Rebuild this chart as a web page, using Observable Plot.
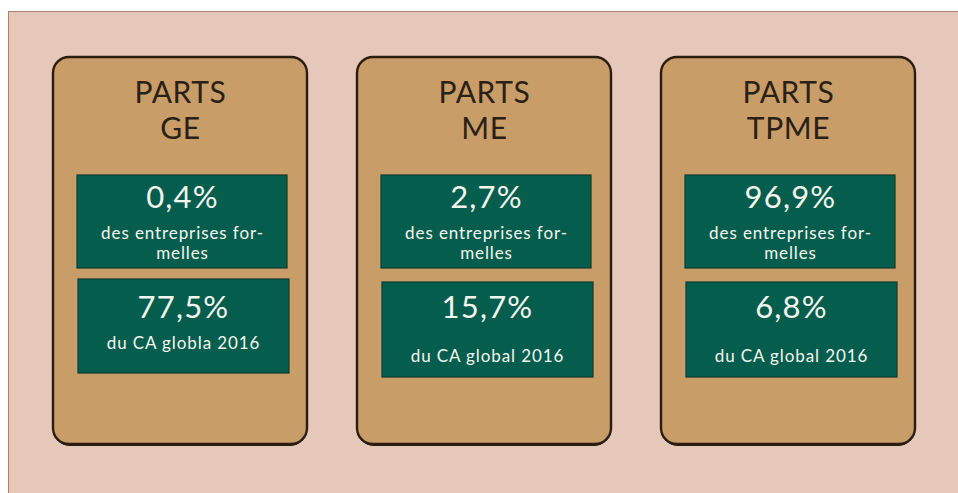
<!DOCTYPE html>
<html>
<head>
<meta charset="utf-8">
<script src="https://cdn.jsdelivr.net/npm/d3@7"></script>
<script src="https://cdn.jsdelivr.net/npm/@observablehq/plot@0.6"></script>
<style>
  html, body { margin: 0; padding: 0; background: #ffffff; }
  #wrap { position: relative; width: 958px; height: 493px; overflow: hidden; }
  #panel { position: absolute; left: 8px; top: 11px; right: -2px; bottom: -2px;
           background: #E5C8BA; border-left: 1px solid #A9836C; border-top: 1px solid #A9836C; }
  #chart { position: absolute; left: 0; top: 0; }
  #chart svg { background: transparent; }
  .sub text { letter-spacing: 0.9px; }
  .pct text { letter-spacing: 1.2px; }
  .ttl text { letter-spacing: 0.6px; }
</style>
</head>
<body>
<div id="wrap"><div id="panel"></div><div id="chart"></div></div>
<script>
// ---- data ----
const cards = ["GE", "ME", "TPME"];
const titleWord = "PARTS";
const shareFirms = [0.4, 2.7, 96.9];      // % des entreprises formelles
const shareCA = [77.5, 15.7, 6.8];        // % du CA global 2016
const firmsLabel = ["des entreprises for-", "melles"];
const caLabels = ["du CA globla 2016", "du CA global 2016", "du CA global 2016"];

const fmt = v => v.toFixed(1).replace(".", ",") + "%";
const rows = cards.map((c, i) => ({
  card: c,
  firms: fmt(shareFirms[i]),
  ca: fmt(shareCA[i]),
  caLabel: caLabels[i],
  first: i === 0
}));

const font = "Lato, 'Open Sans', sans-serif";
const white = "#F5F5EF";
const green = "#055E4D";

const plot = Plot.plot({
  width: 958,
  height: 493,
  margin: 0,
  style: { background: "transparent", fontFamily: font },
  x: { type: "band", domain: cards, range: [53, 915], paddingInner: 0.1645, paddingOuter: 0, axis: null },
  y: { domain: [0, 493], range: [0, 493], axis: null },
  marks: [
    // card shadow + card
    Plot.barY(rows, { x: "card", y1: 58, y2: 446, fill: "#2A1E12", rx: 17 }),
    Plot.barY(rows, { x: "card", y1: 57, y2: 444, fill: "#C89D68", stroke: "#2A1E12", strokeWidth: 2.4, rx: 16 }),
    // titles
    Plot.text(rows, { x: "card", y: 102, text: () => titleWord, lineAnchor: "bottom",
      fontSize: 30, fill: "#2A2015", fontFamily: font, className: "ttl" }),
    Plot.text(rows, { x: "card", y: 138, text: "card", lineAnchor: "bottom",
      fontSize: 30, fill: "#2A2015", fontFamily: font, className: "ttl" }),
    // green boxes
    Plot.barY(rows, { x: "card", y1: 175, y2: 268, fill: green, stroke: "#0E3B30", strokeWidth: 1.2,
      insetLeft: 24, insetRight: 20 }),
    Plot.barY(rows, { x: "card", y1: d => d.first ? 279 : 282, y2: d => d.first ? 373 : 377, fill: green,
      stroke: "#0E3B30", strokeWidth: 1.2, insetLeft: 25, insetRight: 18 }),
    // top box texts
    Plot.text(rows, { x: "card", y: 207, text: "firms", lineAnchor: "bottom", fontSize: 31,
      fill: white, dx: 2, fontFamily: font, className: "pct" }),
    Plot.text(rows, { x: "card", y: 238, text: () => firmsLabel[0], lineAnchor: "bottom", fontSize: 17,
      fill: white, dx: 2, fontFamily: font, className: "sub" }),
    Plot.text(rows, { x: "card", y: 258, text: () => firmsLabel[1], lineAnchor: "bottom", fontSize: 17,
      fill: white, dx: 2, fontFamily: font, className: "sub" }),
    // bottom box texts
    Plot.text(rows, { x: "card", y: 317, text: "ca", lineAnchor: "bottom", fontSize: 31,
      fill: white, dx: 3, fontFamily: font, className: "pct" }),
    Plot.text(rows, { x: "card", y: d => d.first ? 348 : 361, text: "caLabel", lineAnchor: "bottom",
      fontSize: 17, fill: white, dx: 3, fontFamily: font, className: "sub" })
  ]
});
document.getElementById("chart").appendChild(plot);
</script>
</body>
</html>
